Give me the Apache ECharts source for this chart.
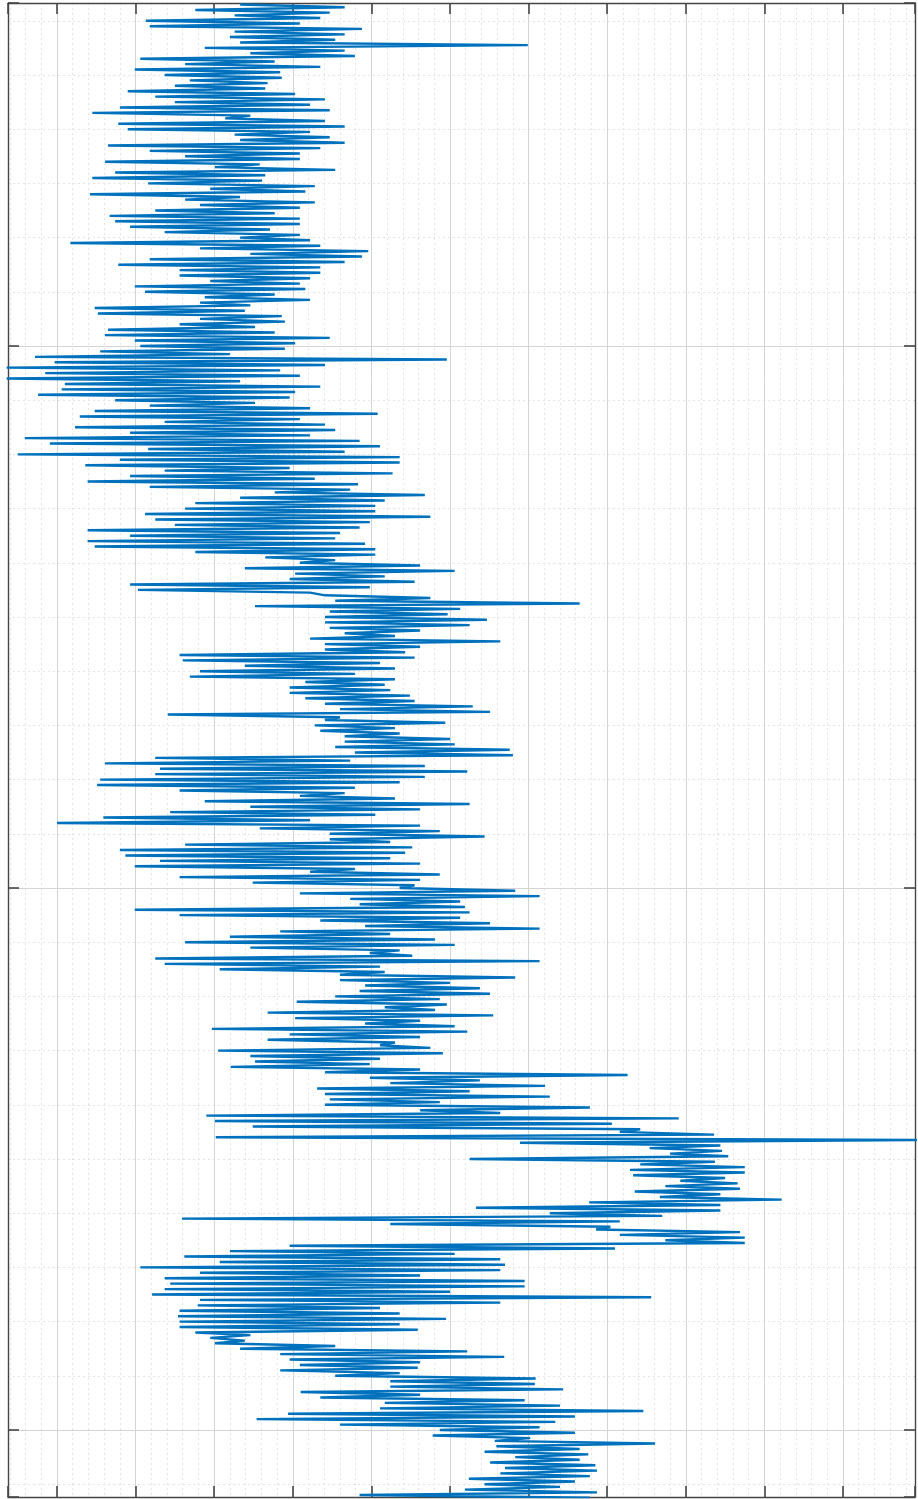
<!DOCTYPE html>
<html>
<head>
<meta charset="utf-8">
<title>log trace</title>
<script src="https://cdn.jsdelivr.net/npm/echarts@6.0.0/dist/echarts.min.js"></script>
<style>
  html, body { margin: 0; padding: 0; background: #fff; }
  #chart { width: 918px; height: 1499px; }
</style>
</head>
<body>
<div id="chart"></div>
<script>
// samples every half depth unit from depth 37: the left swing of each unit, then its right swing
const depthStart = 37
const sampleStep = 0.5

const swingLeft = [
  23.3, 17.6, 22.6, 11.3, 11.8, 22.6, 22.0, 23.3, 18.8, 24.6,
  10.6, 16.3, 9.9, 13.7, 16.9, 15.0, 9.0, 12.5, 15.0, 8.0,
  4.5, 21.4, 7.8, 9.0, 22.6, 23.3, 6.5, 11.8, 16.3, 6.1,
  20.1, 7.4, 4.5, 11.6, 19.5, 4.2, 16.3, 18.2, 12.5, 6.7,
  7.4, 9.3, 13.7, 23.3, 1.7, 18.2, 24.6, 11.8, 7.8, 15.6,
  15.6, 19.5, 9.9, 11.2, 18.8, 18.2, 4.8, 5.2, 18.2, 15.6,
  6.5, 6.1, 9.9, 10.6, 5.5, -2.8, -0.3, -6.4, -1.5, -6.4,
  1.0, 0.6, -2.4, 7.4, 11.8, 4.8, 2.9, 13.7, 2.3, 9.3,
  -4.1, -0.9, 11.6, -5.0, 8.0, 3.6, 13.7, 9.3, 3.9, 11.8,
  27.7, 23.3, 17.6, 16.3, 11.2, 12.5, 15.0, 3.9, 9.3, 3.9,
  4.8, 17.6, 26.5, 30.9, 23.9, 30.3, 29.6, 9.3, 10.3, 34.1,
  35.4, 25.2, 34.7, 34.1, 34.1, 34.7, 36.6, 32.2, 34.1, 34.1,
  15.6, 16.0, 23.9, 18.2, 16.9, 31.6, 29.6, 29.6, 31.6, 34.1,
  36.0, 14.1, 34.1, 32.8, 33.5, 36.6, 36.6, 35.4, 37.9, 12.5,
  6.1, 13.1, 12.5, 5.5, 5.1, 15.6, 30.9, 18.8, 24.6, 14.4,
  5.9, 0.0, 25.8, 34.7, 34.7, 16.3, 8.0, 8.7, 13.1, 9.9,
  32.2, 15.6, 24.9, 43.6, 30.9, 37.3, 38.5, 9.9, 15.6, 33.5,
  39.2, 28.4, 22.0, 16.3, 24.6, 39.8, 12.5, 13.7, 20.7, 36.0,
  36.0, 39.2, 38.5, 35.4, 30.5, 41.7, 26.8, 30.3, 39.2, 19.7,
  29.6, 26.8, 41.1, 20.5, 24.6, 25.2, 22.1, 34.1, 39.8, 42.4,
  33.1, 34.1, 34.7, 34.1, 46.2, 19.0, 20.1, 24.9, 71.6, 20.2,
  58.9, 75.4, 78.0, 52.5, 74.2, 72.9, 73.3, 79.3, 77.4, 73.5,
  76.7, 67.7, 53.3, 62.7, 15.9, 42.4, 68.6, 71.6, 77.4, 29.6,
  22.0, 16.2, 20.7, 10.6, 18.2, 13.7, 14.4, 13.7, 12.1, 18.2,
  17.9, 15.6, 15.4, 15.6, 15.6, 17.6, 19.5, 20.1, 23.3, 28.4,
  29.6, 30.9, 28.4, 35.4, 42.4, 42.4, 31.0, 33.5, 41.7, 41.1,
  29.4, 25.4, 36.0, 48.7, 47.8, 55.7, 55.9, 54.4, 58.3, 55.1,
  57.0, 56.4, 52.4, 54.4, 51.9, 38.5
]

const swingRight = [
  36.6, 34.7, 33.5, 30.9, 38.8, 36.6, 35.4, 59.9, 36.6, 37.9,
  27.7, 33.5, 28.4, 28.6, 26.8, 26.5, 30.3, 34.1, 32.2, 34.7,
  24.6, 34.1, 36.6, 32.2, 34.7, 36.6, 33.5, 30.9, 30.9, 25.8,
  35.4, 26.5, 26.1, 32.8, 31.6, 23.3, 32.8, 30.9, 27.7, 30.9,
  30.9, 27.1, 30.9, 32.2, 33.5, 39.6, 38.8, 36.6, 33.5, 33.5,
  32.2, 30.9, 31.6, 27.7, 32.2, 24.6, 23.9, 28.6, 29.0, 25.2,
  27.7, 34.7, 30.3, 29.0, 22.0, 49.6, 34.1, 28.4, 30.9, 23.3,
  33.5, 30.3, 29.6, 25.2, 32.2, 40.8, 30.9, 34.1, 35.4, 32.2,
  38.5, 41.1, 36.6, 43.6, 43.6, 29.6, 42.7, 32.8, 38.3, 37.3,
  46.8, 41.7, 40.5, 40.5, 47.5, 39.8, 38.5, 36.0, 35.4, 39.2,
  40.5, 40.5, 35.4, 46.2, 50.6, 41.7, 45.5, 39.8, 32.2, 47.5,
  66.5, 51.3, 49.7, 54.7, 52.5, 46.2, 43.0, 56.4, 46.2, 44.3,
  45.5, 41.1, 43.0, 37.9, 43.0, 41.7, 42.4, 44.9, 45.5, 52.9,
  55.1, 36.0, 49.4, 43.0, 43.6, 50.0, 50.6, 57.6, 58.0, 37.3,
  46.8, 52.2, 46.8, 43.6, 37.9, 36.6, 43.0, 52.5, 46.2, 40.5,
  32.2, 46.2, 48.7, 54.4, 42.4, 45.2, 44.3, 42.4, 46.2, 37.9,
  48.7, 46.2, 45.5, 58.3, 61.4, 51.3, 51.9, 52.5, 51.3, 55.1,
  61.4, 42.4, 48.1, 50.6, 43.6, 45.2, 61.4, 41.1, 41.7, 58.3,
  50.0, 53.8, 55.1, 48.7, 49.6, 48.1, 55.5, 46.2, 50.6, 52.2,
  46.2, 43.0, 47.5, 49.1, 41.1, 39.8, 46.2, 72.6, 53.8, 62.1,
  52.5, 62.7, 48.7, 67.8, 56.4, 79.1, 70.6, 74.2, 83.6, 110.0,
  84.4, 84.6, 85.4, 83.7, 87.5, 87.5, 85.0, 86.6, 86.9, 84.4,
  92.2, 84.4, 84.4, 77.0, 71.6, 70.4, 86.9, 87.5, 87.5, 71.0,
  50.6, 56.4, 57.0, 56.4, 46.2, 59.5, 59.5, 50.0, 75.6, 56.4,
  41.1, 43.6, 49.5, 43.6, 45.9, 24.6, 23.9, 35.4, 52.2, 56.9,
  46.2, 45.9, 43.6, 60.9, 60.8, 64.4, 46.2, 59.5, 64.0, 74.6,
  65.9, 63.4, 61.4, 65.9, 60.2, 76.1, 66.5, 67.6, 66.5, 68.5,
  68.7, 67.8, 65.9, 64.0, 68.7, 67.8
]

const xMin = -6.23, xMax = 109.16
const depthMin = 36.72, depthMax = 312.36

const frameColor = '#454545'

const samples = []
swingLeft.forEach((v, i) => {
  samples.push([v, depthStart + 2 * i * sampleStep])
  samples.push([swingRight[i], depthStart + (2 * i + 1) * sampleStep])
})

function frameAxis(position, step, withGrid) {
  return {
    type: 'value',
    position: position,
    min: position === 'top' || position === 'bottom' ? xMin : depthMin,
    max: position === 'top' || position === 'bottom' ? xMax : depthMax,
    minInterval: step,
    maxInterval: step,
    z: 1,
    axisLine: {show: true, onZero: false, lineStyle: {color: frameColor, width: 1.4}},
    axisTick: {show: true, inside: true, length: 11, lineStyle: {color: frameColor, width: 1.6}},
    axisLabel: {show: false},
    splitLine: {show: withGrid, lineStyle: {color: '#d4d4d4', width: 1}}
  }
}

function minorAxis(position, step) {
  return {
    type: 'value',
    position: position,
    min: position === 'bottom' ? xMin : depthMin,
    max: position === 'bottom' ? xMax : depthMax,
    minInterval: step,
    maxInterval: step,
    z: 0,
    axisLine: {show: false, onZero: false},
    axisTick: {show: false},
    axisLabel: {show: false},
    splitLine: {show: true, lineStyle: {color: '#e4e4e4', width: 1, type: [2, 3]}}
  }
}

const chart = echarts.init(document.getElementById('chart'))
const yMajor = frameAxis('left', 100, true)
yMajor.inverse = true
const yRight = frameAxis('right', 100, false)
yRight.inverse = true
const yMinor = minorAxis('left', 10)
yMinor.inverse = true

chart.setOption({
  animation: false,
  backgroundColor: '#ffffff',
  grid: {left: 8, right: 3, top: 3, bottom: 2, containLabel: false},
  xAxis: [
    frameAxis('bottom', 10, true),
    frameAxis('top', 10, false),
    minorAxis('bottom', 2)
  ],
  yAxis: [yMajor, yRight, yMinor],
  series: [
    {
      type: 'line',
      xAxisIndex: 0,
      yAxisIndex: 0,
      data: samples,
      showSymbol: false,
      symbol: 'none',
      clip: true,
      lineStyle: {color: '#0072BD', width: 2.4, join: 'bevel'},
      z: 2
    }
  ]
})
</script>
</body>
</html>
